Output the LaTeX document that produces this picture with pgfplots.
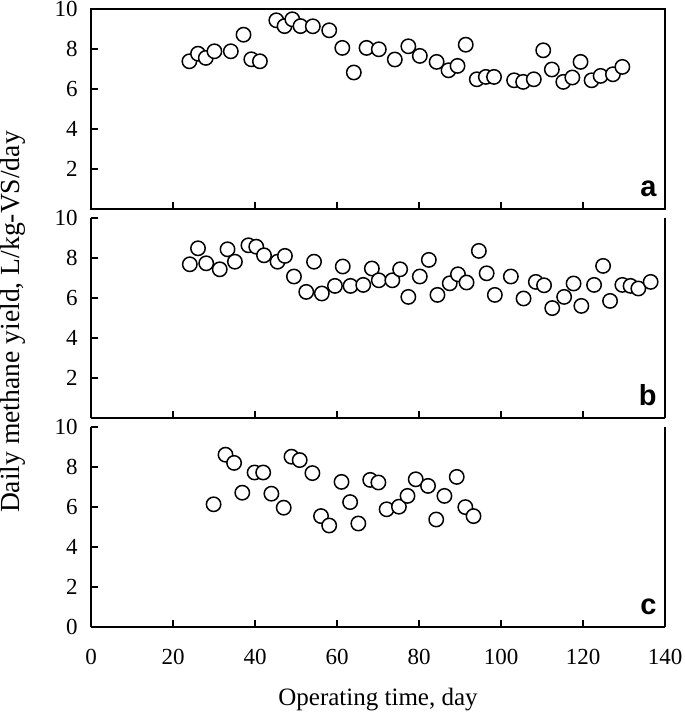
\documentclass[border=0pt]{standalone}
\usepackage{fontspec}
\setmainfont{Liberation Serif}
\newfontfamily\arial{Liberation Sans}
\usepackage{pgfplots}
\pgfplotsset{compat=1.18}

\pgfplotstableread{
x y
24.0 7.40
26.1 7.78
28.0 7.57
30.1 7.90
34.1 7.90
37.2 8.73
39.1 7.50
41.2 7.40
45.2 9.45
47.2 9.16
49.1 9.50
51.1 9.16
54.1 9.15
58.1 8.95
61.3 8.07
64.1 6.84
67.2 8.07
70.2 8.00
74.1 7.49
77.4 8.15
80.2 7.67
84.3 7.37
87.2 6.95
89.4 7.17
91.4 8.23
94.1 6.50
96.3 6.62
98.3 6.62
103.2 6.45
105.4 6.37
108.0 6.50
110.3 7.95
112.4 6.99
115.2 6.37
117.4 6.59
119.4 7.37
122.1 6.45
124.3 6.67
127.3 6.75
129.6 7.12
}\dataA

\pgfplotstableread{
x y
24.1 7.70
26.1 8.50
28.1 7.75
31.4 7.45
33.3 8.45
35.1 7.83
38.4 8.65
40.3 8.58
42.2 8.15
45.5 7.83
47.3 8.12
49.5 7.09
52.5 6.32
54.4 7.83
56.3 6.24
59.5 6.62
61.4 7.59
63.3 6.62
66.4 6.67
68.5 7.49
70.2 6.90
73.5 6.90
75.4 7.45
77.4 6.07
80.2 7.09
82.4 7.92
84.5 6.17
87.5 6.75
89.5 7.20
91.6 6.79
94.6 8.37
96.5 7.25
98.5 6.17
102.4 7.09
105.5 5.99
108.5 6.82
110.5 6.65
112.5 5.51
115.4 6.07
117.7 6.74
119.6 5.62
122.7 6.67
124.9 7.62
126.6 5.87
129.6 6.67
131.6 6.62
133.5 6.49
136.5 6.82
}\dataB

\pgfplotstableread{
x y
29.9 6.15
32.8 8.63
34.9 8.22
36.9 6.73
39.9 7.74
42.0 7.74
44.0 6.68
47.0 5.98
48.9 8.53
50.9 8.36
54.0 7.71
56.1 5.56
58.1 5.09
61.1 7.27
63.2 6.26
65.2 5.19
68.1 7.37
70.1 7.24
72.1 5.90
75.1 6.03
77.2 6.57
79.2 7.40
82.2 7.07
84.2 5.39
86.2 6.57
89.2 7.52
91.3 6.01
93.3 5.56
}\dataC

\pgfplotsset{
  panel/.style={
    scale only axis, width=287pt, height=100pt,
    anchor=south west,
    xmin=0, xmax=140, ymin=0, ymax=10,
    xtick={0,20,...,140}, ytick={0,2,...,10},
    tick align=inside, tick pos=left,
    major tick length=3.5pt,
    axis line style={line width=0.8pt, black},
    every tick/.style={line width=0.8pt, black},
    ticklabel style={font=\fontsize{11.5}{13}\selectfont},
    /pgf/number format/assume math mode=true,
    yticklabel style={inner sep=0pt, xshift=-6.5pt},
    xticklabel style={inner sep=0pt, yshift=-11pt},
    clip=false,
  },
  openbox/.style={axis x line*=bottom, axis y line*=box},
  pts/.style={only marks, mark=*, mark size=3.6pt,
    mark options={draw=black, fill=white, line width=0.75pt}},
}
\tikzset{
  letter/.style={anchor=south east, inner sep=0pt, xshift=-4pt, yshift=6.2pt,
    font=\arial\bfseries\fontsize{14.5}{16}\selectfont},
}

\begin{document}
\begin{tikzpicture}
\begin{axis}[panel, at={(0,209pt)}, xticklabels={}, yticklabels={,2,4,6,8,10}]
\addplot[pts] table[x=x,y=y] {\dataA};
\node[letter] at (rel axis cs:1,0) {a};
\end{axis}
\begin{axis}[panel, openbox, at={(0,104.5pt)}, xticklabels={}, yticklabels={,2,4,6,8,10}]
\addplot[pts] table[x=x,y=y] {\dataB};
\node[letter] at (rel axis cs:1,0) {b};
\end{axis}
\begin{axis}[panel, openbox, at={(0,0)}]
\addplot[pts] table[x=x,y=y] {\dataC};
\node[letter] at (rel axis cs:1,0) {c};
\node[anchor=base, inner sep=0pt, font=\fontsize{12.5}{14}\selectfont] at (rel axis cs:0.5,0) [yshift=-39.3pt] {Operating time, day};
\end{axis}
\node[rotate=90, inner sep=0pt, font=\fontsize{13.8}{16}\selectfont] at (-39pt,152.6pt) {Daily methane yield, L/kg-VS/day};
\path (-45.5pt,-42.35pt) rectangle (297pt,313.65pt);
\end{tikzpicture}
\end{document}
